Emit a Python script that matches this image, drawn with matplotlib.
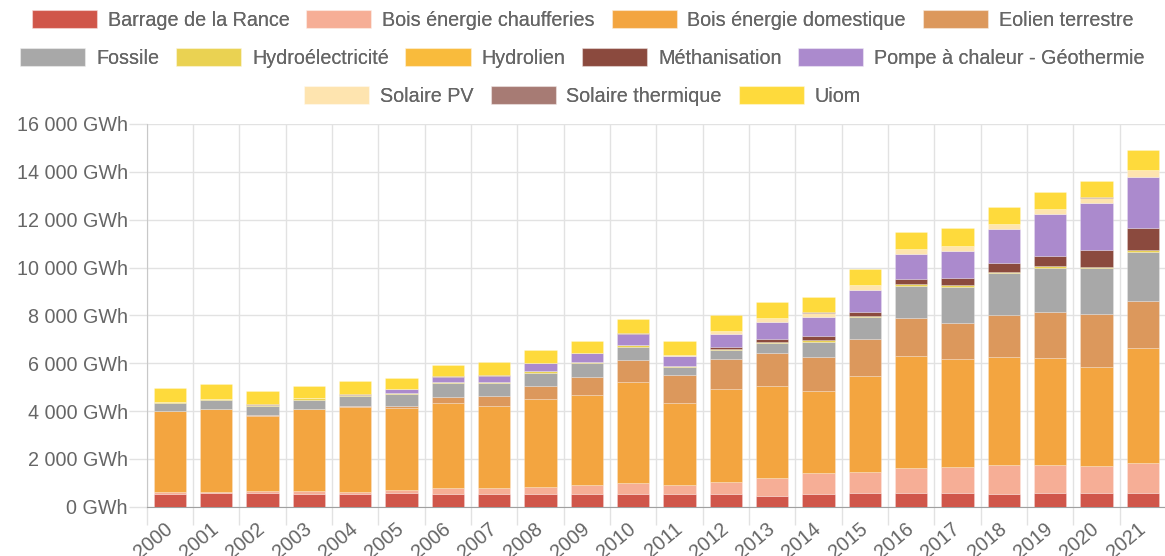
import matplotlib
matplotlib.use("Agg")
import matplotlib.pyplot as plt
from matplotlib.patches import Patch
from matplotlib.ticker import FuncFormatter, FixedLocator
from matplotlib.transforms import ScaledTranslation
import numpy as np

years = [str(y) for y in range(2000, 2022)]

series_names = ["Barrage de la Rance", "Bois énergie chaufferies", "Bois énergie domestique",
                "Eolien terrestre", "Fossile", "Hydroélectricité", "Hydrolien", "Méthanisation",
                "Pompe à chaleur - Géothermie", "Solaire PV", "Solaire thermique", "Uiom"]

colors = ["#D0564A", "#F6AE96", "#F3A540", "#DC985C", "#A8A8A8", "#EAD252", "#F9BB3C",
          "#8B4A3E", "#AB8ACD", "#FEE4AF", "#A77B74", "#FEDA3C"]

barrage = [530, 560, 560, 550, 530, 560, 520, 520, 520, 520, 520, 520, 520, 447, 530, 560, 560, 585, 530, 560, 585, 585]
bois_chaufferies = [80, 70, 90, 110, 100, 140, 250, 250, 318, 387, 457, 387, 525, 740, 865, 905, 1045, 1087, 1200, 1170, 1115, 1227]
bois_domestique = [3390, 3455, 3155, 3425, 3550, 3410, 3580, 3440, 3662, 3763, 4223, 3413, 3875, 3858, 3455, 4015, 4695, 4503, 4515, 4470, 4130, 4838]
eolien = [10, 10, 10, 10, 10, 100, 250, 420, 545, 740, 930, 1185, 1240, 1365, 1420, 1520, 1600, 1515, 1770, 1950, 2225, 1960]
fossile = [313, 365, 407, 385, 450, 490, 560, 530, 555, 585, 560, 325, 390, 420, 630, 945, 1340, 1510, 1745, 1840, 1910, 2050]
hydroelectricite = [50, 50, 50, 50, 50, 70, 50, 50, 80, 55, 70, 50, 55, 70, 70, 40, 60, 60, 60, 60, 65, 70]
hydrolien = [0] * 22
methanisation = [0, 0, 0, 0, 0, 0, 0, 0, 0, 0, 0, 0, 85, 120, 165, 155, 220, 290, 380, 440, 700, 910]
pompe_chaleur = [0, 0, 0, 0, 0, 150, 225, 270, 315, 360, 447, 420, 530, 715, 780, 920, 1030, 1150, 1410, 1735, 1955, 2155]
solaire_pv = [0, 0, 0, 0, 0, 0, 0, 0, 0, 0, 30, 30, 130, 140, 200, 200, 215, 200, 200, 210, 240, 270]
solaire_thermique = [10] * 22
uiom = [567, 610, 568, 510, 570, 465, 480, 545, 545, 520, 603, 600, 645, 685, 645, 685, 715, 745, 710, 730, 685, 825]

data = [barrage, bois_chaufferies, bois_domestique, eolien, fossile, hydroelectricite, hydrolien,
        methanisation, pompe_chaleur, solaire_pv, solaire_thermique, uiom]

plt.rcParams['font.family'] = ['Liberation Sans', 'DejaVu Sans']
W, H = 1165, 556
fs = 14.2
fig = plt.figure(figsize=(W / 100, H / 100), dpi=100)
ax = fig.add_axes([146.7 / W, 1 - 506.7 / H, (1166 - 146.7) / W, (506.7 - 124) / H])

x = np.arange(len(years))
bottom = np.zeros(len(years))
for name, vals, c in zip(series_names, data, colors):
    v = np.array(vals, dtype=float)
    ax.bar(x, v, bottom=bottom, width=0.7, color=c, edgecolor=(1, 1, 1, 0.25), linewidth=0.6, label=name, zorder=3)
    bottom += v

ax.set_xlim(-0.5, len(years) - 0.5)
ax.set_ylim(0, 16000)

txtc = "#666666"
gridc = "#e2e2e2"
ax.yaxis.set_major_locator(FixedLocator(np.arange(0, 16001, 2000)))
ax.yaxis.set_major_formatter(FuncFormatter(lambda v, p: f"{int(v):,} GWh".replace(",", " ")))
ax.set_xticks(x)
ax.set_xticklabels(years, rotation=40, ha="right", rotation_mode="anchor")
ax.set_xticks(np.arange(-0.5, len(years), 1), minor=True)

ax.tick_params(axis="y", which="major", length=13, width=1, color=gridc, labelsize=fs, labelcolor=txtc, pad=0.5)
ax.tick_params(axis="x", which="major", length=0, labelsize=fs, labelcolor=txtc, pad=9)
ax.tick_params(axis="x", which="minor", length=13, width=1, color=gridc)
shift = ScaledTranslation(-6 / 100, 0, fig.dpi_scale_trans)
for lbl in ax.get_xticklabels():
    lbl.set_transform(lbl.get_transform() + shift)

ax.grid(axis="y", which="major", color=gridc, linewidth=1, zorder=0)
ax.grid(axis="x", which="minor", color=gridc, linewidth=1, zorder=0)
for s in ["top", "right"]:
    ax.spines[s].set_visible(False)
ax.spines["left"].set_color("#c8c8c8")
ax.spines["bottom"].set_color("#a0a0a0")
ax.set_axisbelow(True)

handles = [Patch(facecolor=c, edgecolor=(1, 1, 1, 0.5), linewidth=0.8) for c in colors]
rows = [(0, 4), (4, 9), (9, 12)]
ys = [1 - 20 / H, 1 - 58 / H, 1 - 96 / H]
for (a, b), yy in zip(rows, ys):
    leg = fig.legend(handles[a:b], series_names[a:b], loc="center", bbox_to_anchor=(0.5, yy),
                     ncol=b - a, frameon=False, fontsize=fs, handlelength=3.3, handleheight=1.0,
                     handletextpad=0.55, columnspacing=0.85, borderaxespad=0, borderpad=0)
    for t in leg.get_texts():
        t.set_color(txtc)
    fig.add_artist(leg)

fig.savefig("out.png", dpi=100)
